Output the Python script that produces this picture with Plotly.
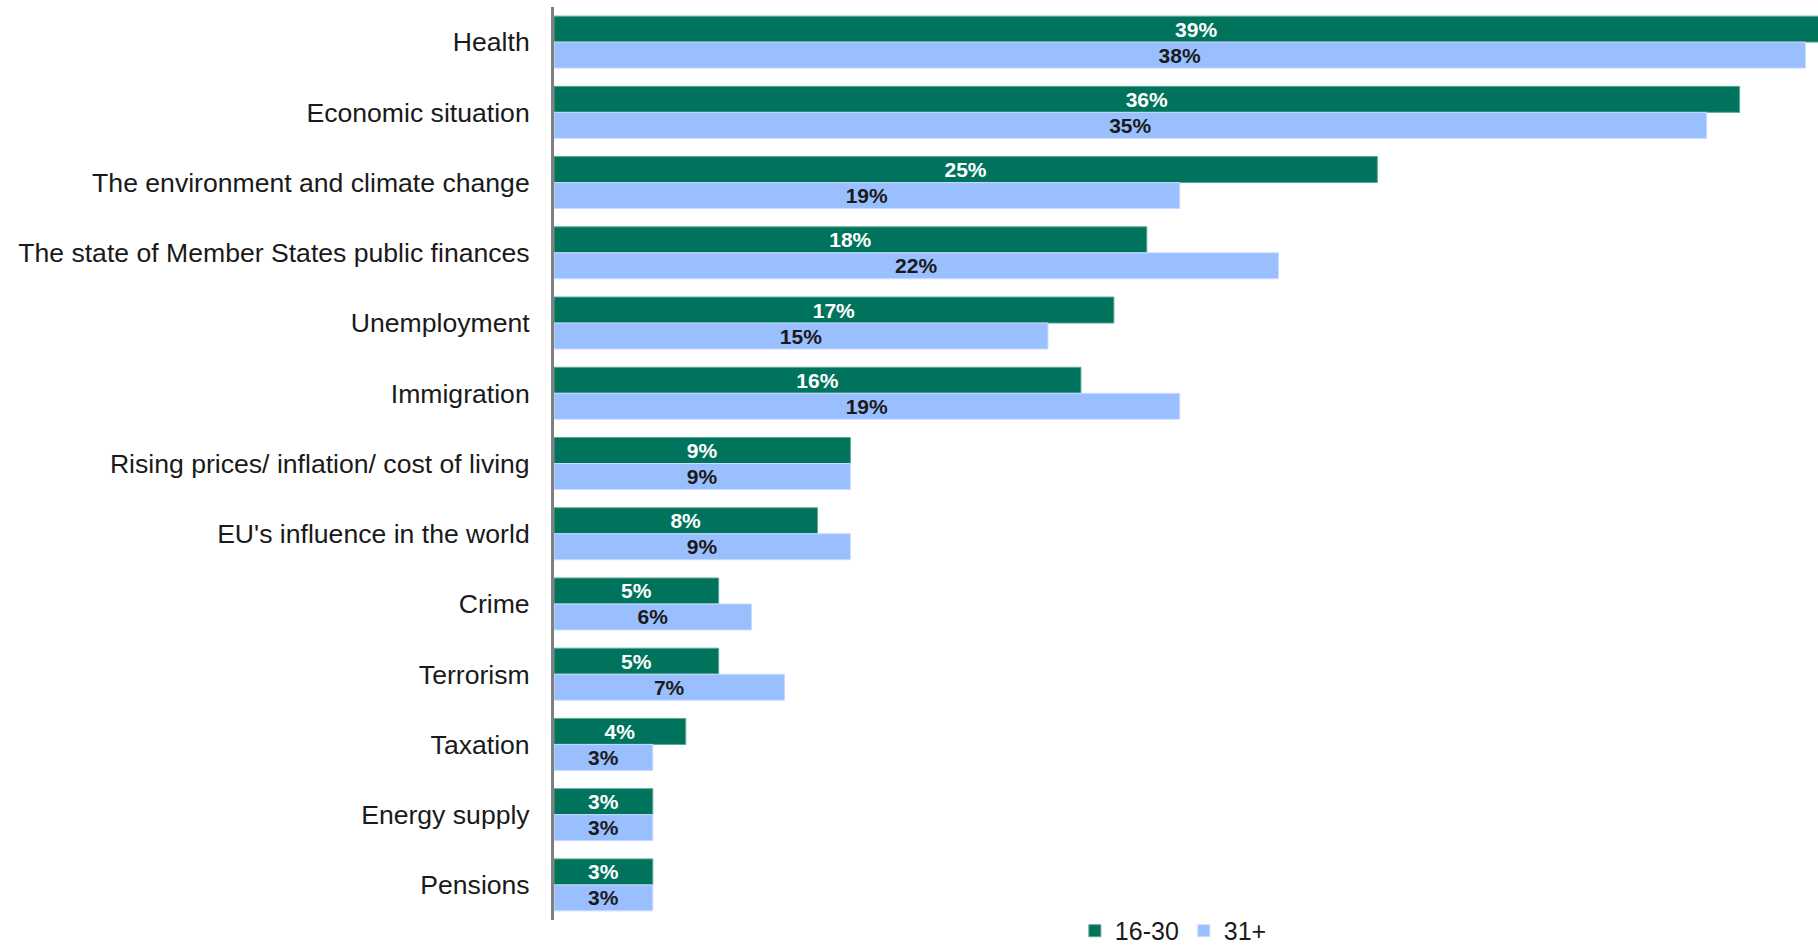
import plotly.graph_objects as go

categories = [
    "Health",
    "Economic situation",
    "The environment and climate change",
    "The state of Member States public finances",
    "Unemployment",
    "Immigration",
    "Rising prices/ inflation/ cost of living",
    "EU's influence in the world",
    "Crime",
    "Terrorism",
    "Taxation",
    "Energy supply",
    "Pensions",
]
young_16_30 = [39, 36, 25, 18, 17, 16, 9, 8, 5, 5, 4, 3, 3]
older_31_plus = [38, 35, 19, 22, 15, 19, 9, 9, 6, 7, 3, 3, 3]
series_names = ["16-30", "31+"]

GREEN = "#00735c"
GREEN_EDGE = "#5fa894"
BLUE = "#9abfff"
BLUE_EDGE = "#c9dcff"
FONT = "Arial, Liberation Sans, sans-serif"

fig = go.Figure()
fig.add_trace(go.Bar(
    name=series_names[0],
    y=categories,
    x=young_16_30,
    orientation="h",
    marker=dict(color=GREEN, line=dict(color=GREEN_EDGE, width=1)),
    text=[f"{v}%" for v in young_16_30],
    textposition="inside",
    insidetextanchor="middle",
    textangle=0,
    constraintext="none",
    textfont=dict(family=FONT, size=21, color="white", weight="bold"),
    hoverinfo="skip",
))
fig.add_trace(go.Bar(
    name=series_names[1],
    y=categories,
    x=older_31_plus,
    orientation="h",
    marker=dict(color=BLUE, line=dict(color=BLUE_EDGE, width=1)),
    text=[f"{v}%" for v in older_31_plus],
    textposition="inside",
    insidetextanchor="middle",
    textangle=0,
    constraintext="none",
    textfont=dict(family=FONT, size=21, color="#1a1a1a", weight="bold"),
    hoverinfo="skip",
))

fig.update_layout(
    width=1818,
    height=948,
    autosize=False,
    margin=dict(l=554, r=0, t=7, b=28, autoexpand=False),
    paper_bgcolor="white",
    plot_bgcolor="white",
    barmode="group",
    bargap=0.26,
    bargroupgap=0,
    font=dict(family=FONT, color="#1a1a1a"),
    showlegend=True,
    legend=dict(
        orientation="h",
        x=0.49,
        xanchor="center",
        y=-0.012,
        yanchor="middle",
        bgcolor="rgba(0,0,0,0)",
        font=dict(family=FONT, size=25, color="#1a1a1a"),
        itemwidth=30,
        traceorder="normal",
    ),
)
fig.update_xaxes(
    range=[0, 38.38],
    showgrid=False,
    zeroline=False,
    showticklabels=False,
    showline=False,
    ticks="",
)
fig.update_yaxes(
    autorange="reversed",
    showgrid=False,
    zeroline=False,
    showline=True,
    linecolor="#7f7f7f",
    linewidth=3,
    ticks="",
    ticklabelstandoff=16,
    tickfont=dict(family=FONT, size=26.6, color="#1a1a1a"),
)

fig.write_html("out.html")
